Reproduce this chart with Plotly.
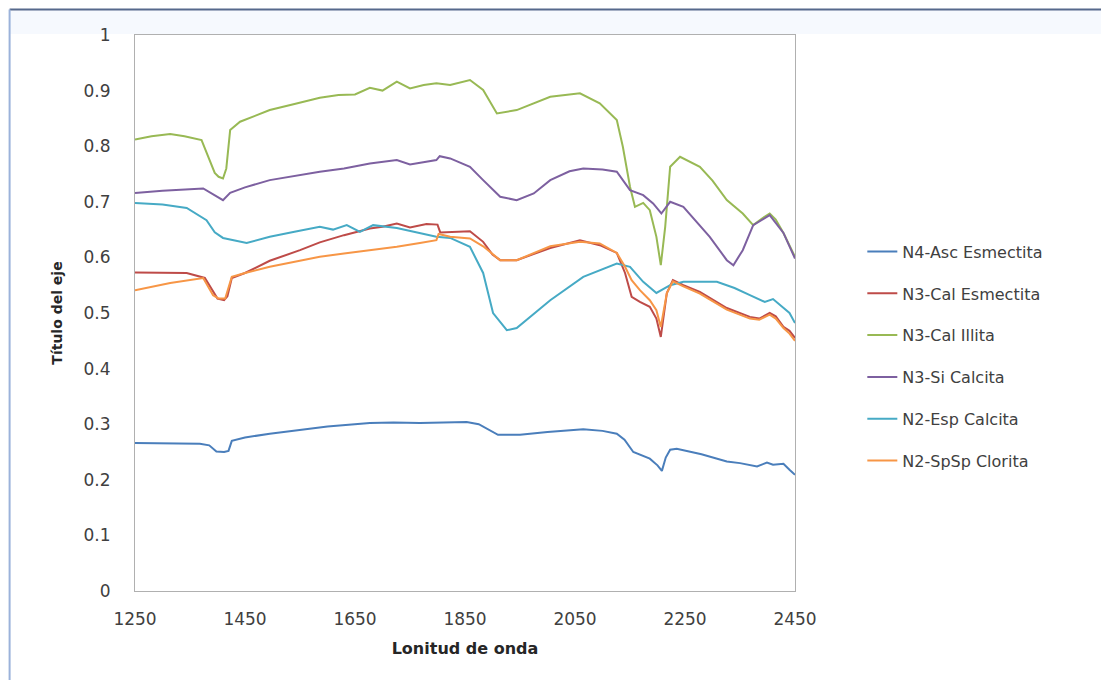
import plotly.graph_objects as go

# ---- data ----
wl_n4_asc = [1250, 1300, 1368, 1385, 1398, 1412, 1420, 1426, 1450, 1495, 1550, 1600, 1677, 1720, 1768, 1800, 1823, 1853, 1875, 1895, 1910, 1950, 2000, 2065, 2100, 2126, 2140, 2156, 2175, 2186, 2200, 2208, 2215, 2223, 2235, 2280, 2326, 2350, 2381, 2399, 2410, 2429, 2440, 2450]
val_n4_asc = [0.266, 0.266, 0.265, 0.262, 0.251, 0.250, 0.252, 0.270, 0.276, 0.283, 0.290, 0.296, 0.302, 0.303, 0.302, 0.303, 0.304, 0.304, 0.300, 0.290, 0.281, 0.281, 0.286, 0.291, 0.288, 0.283, 0.272, 0.250, 0.243, 0.238, 0.226, 0.216, 0.240, 0.254, 0.256, 0.246, 0.233, 0.230, 0.224, 0.231, 0.227, 0.229, 0.218, 0.209]

wl_n3_cal_esm = [1250, 1300, 1344, 1377, 1392, 1400, 1412, 1418, 1426, 1450, 1495, 1550, 1586, 1630, 1677, 1700, 1726, 1750, 1780, 1800, 1805, 1823, 1859, 1883, 1900, 1914, 1944, 2005, 2059, 2095, 2126, 2141, 2153, 2168, 2186, 2198, 2206, 2217, 2228, 2247, 2277, 2326, 2368, 2385, 2404, 2415, 2429, 2440, 2450]
val_n3_cal_esm = [0.573, 0.573, 0.572, 0.563, 0.540, 0.526, 0.523, 0.530, 0.563, 0.572, 0.594, 0.613, 0.627, 0.640, 0.652, 0.655, 0.661, 0.654, 0.660, 0.659, 0.645, 0.646, 0.647, 0.628, 0.605, 0.595, 0.595, 0.617, 0.631, 0.622, 0.608, 0.572, 0.529, 0.520, 0.511, 0.490, 0.457, 0.536, 0.559, 0.550, 0.538, 0.509, 0.493, 0.490, 0.500, 0.494, 0.475, 0.468, 0.455]

wl_n3_cal_ill = [1250, 1280, 1314, 1340, 1371, 1386, 1395, 1402, 1410, 1416, 1423, 1441, 1470, 1495, 1540, 1586, 1620, 1650, 1677, 1700, 1726, 1750, 1775, 1798, 1823, 1859, 1883, 1908, 1944, 2005, 2059, 2095, 2126, 2137, 2150, 2159, 2174, 2186, 2198, 2206, 2214, 2223, 2241, 2277, 2300, 2326, 2355, 2374, 2390, 2404, 2415, 2429, 2450]
val_n3_cal_ill = [0.812, 0.818, 0.822, 0.818, 0.811, 0.775, 0.752, 0.745, 0.742, 0.760, 0.829, 0.844, 0.855, 0.865, 0.876, 0.887, 0.892, 0.893, 0.905, 0.900, 0.916, 0.904, 0.910, 0.913, 0.910, 0.919, 0.901, 0.859, 0.865, 0.889, 0.895, 0.877, 0.847, 0.799, 0.727, 0.691, 0.698, 0.685, 0.637, 0.586, 0.655, 0.763, 0.781, 0.763, 0.738, 0.703, 0.679, 0.658, 0.670, 0.679, 0.668, 0.644, 0.601]

wl_n3_si_cal = [1250, 1300, 1374, 1395, 1410, 1423, 1450, 1495, 1540, 1586, 1630, 1677, 1726, 1750, 1798, 1804, 1823, 1859, 1883, 1914, 1944, 1975, 2005, 2040, 2065, 2100, 2126, 2150, 2174, 2192, 2207, 2223, 2247, 2270, 2295, 2326, 2338, 2355, 2374, 2404, 2429, 2450]
val_n3_si_cal = [0.716, 0.720, 0.724, 0.712, 0.703, 0.716, 0.726, 0.739, 0.747, 0.754, 0.760, 0.769, 0.775, 0.767, 0.775, 0.782, 0.778, 0.763, 0.739, 0.709, 0.703, 0.715, 0.739, 0.755, 0.760, 0.758, 0.754, 0.721, 0.712, 0.697, 0.679, 0.700, 0.691, 0.665, 0.637, 0.595, 0.586, 0.613, 0.658, 0.676, 0.644, 0.598]

wl_n2_esp_cal = [1250, 1300, 1344, 1380, 1395, 1410, 1453, 1495, 1540, 1586, 1610, 1635, 1659, 1683, 1726, 1768, 1798, 1823, 1859, 1883, 1901, 1926, 1944, 2005, 2065, 2126, 2150, 2174, 2198, 2223, 2247, 2308, 2340, 2368, 2395, 2410, 2429, 2440, 2450]
val_n2_esp_cal = [0.698, 0.695, 0.689, 0.667, 0.645, 0.635, 0.626, 0.637, 0.646, 0.655, 0.650, 0.658, 0.646, 0.658, 0.653, 0.644, 0.637, 0.635, 0.619, 0.572, 0.500, 0.469, 0.473, 0.523, 0.565, 0.589, 0.583, 0.556, 0.536, 0.550, 0.556, 0.556, 0.545, 0.532, 0.520, 0.525, 0.509, 0.500, 0.482]

wl_n2_spsp_clo = [1250, 1314, 1374, 1392, 1402, 1414, 1426, 1450, 1495, 1540, 1586, 1630, 1677, 1726, 1768, 1798, 1802, 1823, 1859, 1883, 1914, 1944, 2005, 2059, 2095, 2126, 2141, 2153, 2168, 2186, 2198, 2206, 2217, 2228, 2247, 2277, 2326, 2368, 2385, 2404, 2415, 2429, 2440, 2450]
val_n2_spsp_clo = [0.541, 0.554, 0.563, 0.532, 0.526, 0.526, 0.565, 0.572, 0.583, 0.592, 0.601, 0.607, 0.613, 0.619, 0.626, 0.631, 0.642, 0.637, 0.634, 0.620, 0.595, 0.595, 0.620, 0.628, 0.625, 0.608, 0.583, 0.559, 0.541, 0.523, 0.505, 0.475, 0.536, 0.557, 0.548, 0.535, 0.506, 0.490, 0.488, 0.497, 0.490, 0.473, 0.463, 0.450]

series_names = ["N4-Asc Esmectita", "N3-Cal Esmectita", "N3-Cal Illita",
                "N3-Si Calcita", "N2-Esp Calcita", "N2-SpSp Clorita"]
series_x = [wl_n4_asc, wl_n3_cal_esm, wl_n3_cal_ill, wl_n3_si_cal, wl_n2_esp_cal, wl_n2_spsp_clo]
series_y = [val_n4_asc, val_n3_cal_esm, val_n3_cal_ill, val_n3_si_cal, val_n2_esp_cal, val_n2_spsp_clo]
series_colors = ["#4A7EBB", "#BE4B48", "#98B954", "#7D60A0", "#46AAC5", "#F79646"]

x_ticks = [1250, 1450, 1650, 1850, 2050, 2250, 2450]
y_ticks = [0, 0.1, 0.2, 0.3, 0.4, 0.5, 0.6, 0.7, 0.8, 0.9, 1]
y_tick_text = ["0", "0.1", "0.2", "0.3", "0.4", "0.5", "0.6", "0.7", "0.8", "0.9", "1"]

FONT = "'DejaVu Sans', Verdana, sans-serif"

fig = go.Figure()
for i, (name, xs, ys, col) in enumerate(zip(series_names, series_x, series_y, series_colors)):
    fig.add_trace(go.Scatter(x=xs, y=ys, mode="lines", name=name,
                             legendgroup=f"g{i}",
                             line=dict(color=col, width=2)))

fig.update_layout(
    width=1101, height=680,
    margin=dict(l=135, r=306, t=35, b=89),
    paper_bgcolor="white", plot_bgcolor="white",
    font=dict(family=FONT, size=16, color="#404040"),
    showlegend=True,
    legend=dict(x=1.102, y=0.641, xanchor="left", yanchor="top",
                font=dict(family=FONT, size=16, color="#404040"),
                tracegroupgap=18, bgcolor="rgba(0,0,0,0)"),
    xaxis=dict(range=[1250, 2450], tickvals=x_ticks, showgrid=False, zeroline=False,
               showline=True, linecolor="#B0B0B0", linewidth=1, mirror=True,
               ticks="", ticklabelstandoff=13,
               tickfont=dict(family=FONT, size=17, color="#404040"),
               title=dict(text="<b>Lonitud de onda</b>", standoff=14,
                          font=dict(family=FONT, size=16, color="#262626"))),
    yaxis=dict(range=[0, 1], tickvals=y_ticks, ticktext=y_tick_text, showgrid=False,
               zeroline=False, showline=True, linecolor="#B0B0B0", linewidth=1,
               mirror=True, ticks="", ticklabelstandoff=20,
               tickfont=dict(family=FONT, size=17, color="#404040"),
               title=dict(text="<b>Título del eje</b>", standoff=17,
                          font=dict(family=FONT, size=14, color="#262626"))),
)

# chart-area frame (top and left edges visible in the reference)
fig.add_shape(type="rect", xref="paper", yref="paper",
              x0=-0.19, x1=1.5, y0=1.002, y1=1.046,
              line=dict(width=0), fillcolor="#F6F9FE", layer="below")
fig.add_shape(type="line", xref="paper", yref="paper",
              x0=-0.19, x1=1.5, y0=1.046, y1=1.046,
              line=dict(color="#56698C", width=2))
fig.add_shape(type="line", xref="paper", yref="paper",
              x0=-0.19, x1=-0.19, y0=-0.2, y1=1.046,
              line=dict(color="#9BB2DA", width=2))

fig.write_html("out.html")
